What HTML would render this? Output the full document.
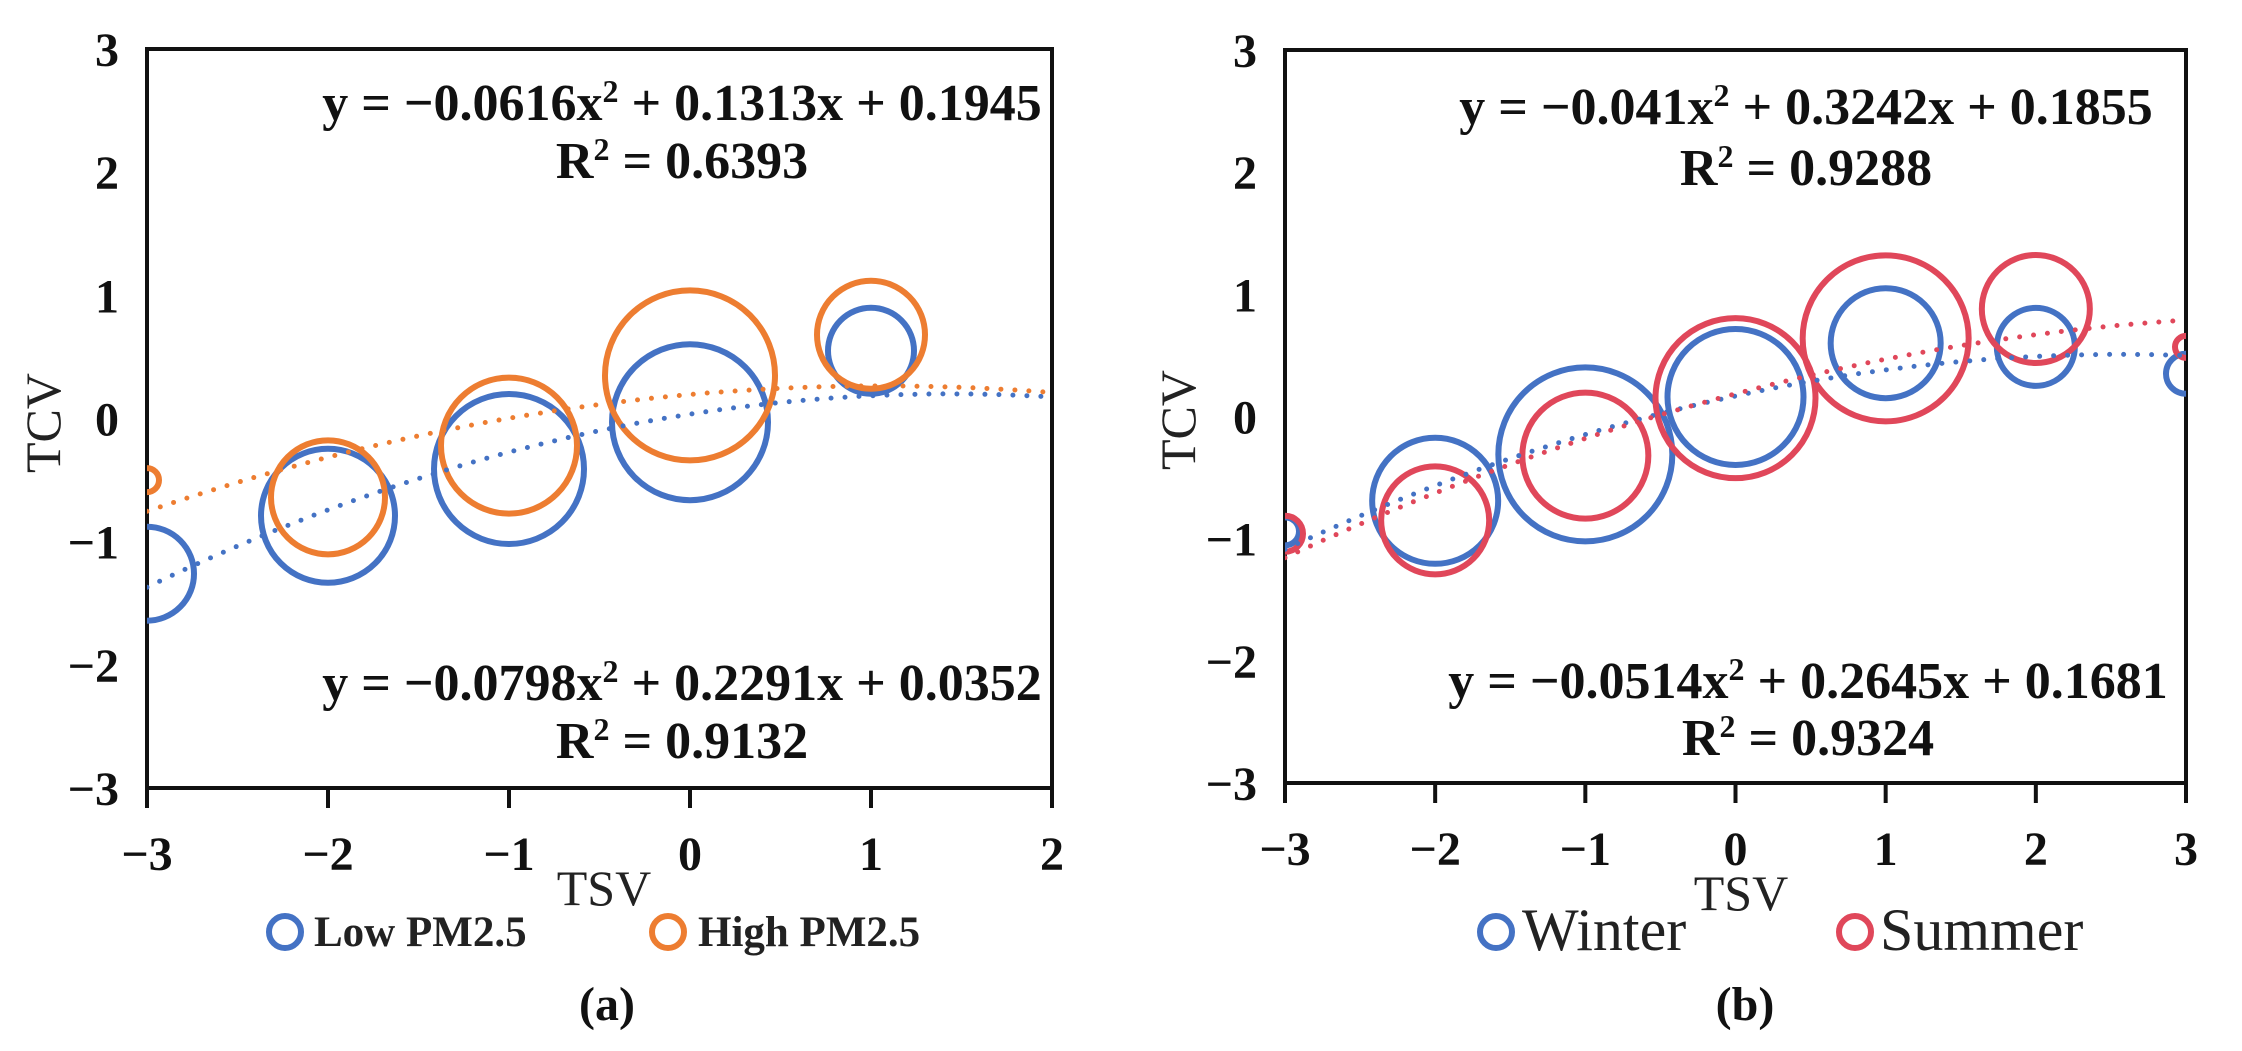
<!DOCTYPE html>
<html><head><meta charset="utf-8"><style>
html,body{margin:0;padding:0;background:#fff;}
svg{display:block;}
text{font-family:"Liberation Serif",serif;}
.tk{font-weight:bold;font-size:48px;fill:#111;}
.eq{font-weight:bold;font-size:52px;fill:#111;}
</style></head><body>
<svg id="fig" width="2242" height="1051" viewBox="0 0 2242 1051" xmlns="http://www.w3.org/2000/svg"></svg>
<script>
// Panel (a) data
const aX = [-3, -2, -1, 0, 1];
const aLowY = [-1.26, -0.79, -0.41, -0.03, 0.55];
const aLowSize = [47, 67, 75, 78, 43];
const aHighY = [-0.5, -0.64, -0.22, 0.35, 0.68];
const aHighSize = [12, 57, 68, 85, 54];
const aLowFit = [-0.0798, 0.2291, 0.0352];
const aHighFit = [-0.0616, 0.1313, 0.1945];
const aXTicks = [-3, -2, -1, 0, 1, 2];
// Panel (b) data
const bX = [-3, -2, -1, 0, 1, 2, 3];
const bWinterY = [-0.94, -0.69, -0.31, 0.16, 0.6, 0.57, 0.35];
const bWinterSize = [14, 63, 87, 68, 55, 39, 20];
const bSummerY = [-0.96, -0.85, -0.32, 0.15, 0.64, 0.88, 0.57];
const bSummerSize = [18, 54, 63, 80, 83, 54, 11];
const bWinterFit = [-0.0514, 0.2645, 0.1681];
const bSummerFit = [-0.041, 0.3242, 0.1855];
const bXTicks = [-3, -2, -1, 0, 1, 2, 3];
const yTicks = [-3, -2, -1, 0, 1, 2, 3];

const NS = "http://www.w3.org/2000/svg";
const svg = document.getElementById('fig');
function mk(tag, attrs, parent, txt) {
  const e = document.createElementNS(NS, tag);
  for (const k in attrs) e.setAttribute(k, attrs[k]);
  if (txt !== undefined) e.textContent = txt;
  (parent || svg).appendChild(e);
  return e;
}
const BLUE = "#4472C4", ORANGE = "#ED7D31", RED = "#E0475A";
function fmt(v){return v < 0 ? "\u2212" + Math.abs(v) : String(v);}

function panel(cfg) {
  const g = mk('g', {});
  
  
  const xs = v => cfg.L + (v - cfg.xmin) / (cfg.xmax - cfg.xmin) * (cfg.R - cfg.L);
  const ys = v => cfg.B - (v + 3) / 6 * (cfg.B - cfg.T);
  const fr = mk('rect', {x: cfg.L, y: cfg.T, width: cfg.R - cfg.L, height: cfg.B - cfg.T, fill: "none", stroke: "#111", "stroke-width": 4}, g);
  
  
  cfg.xticks.forEach(t => {
    const x = xs(t);
    const tl = mk('line', {x1: x, y1: cfg.B, x2: x, y2: cfg.B + 20, stroke: "#111", "stroke-width": 4}, g);
    
    
    const tx = mk('text', {x: x, y: cfg.B + 82, "text-anchor": "middle", class: "tk"}, g, fmt(t));
    
    
  });
  yTicks.forEach(t => {
    const ty = mk('text', {x: cfg.L - 28, y: ys(t) + 17, "text-anchor": "end", class: "tk"}, g, fmt(t));
    
    
  });
  const clip = mk('clipPath', {id: cfg.name + '-clip'}, g);
  mk('rect', {x: cfg.L, y: cfg.T, width: cfg.R - cfg.L, height: cfg.B - cfg.T}, clip);
  const pg = mk('g', {"clip-path": "url(#" + cfg.name + "-clip)"}, g);
  cfg.series.forEach(s => {
    s.y.forEach((v, i) => {
      const c = mk('circle', {cx: xs(cfg.x[i]), cy: ys(v), r: s.size[i], fill: "none", stroke: s.color, "stroke-width": 6}, pg);
      
      
    });
  });
  cfg.series.forEach(s => {
    let d = "";
    for (let k = 0; k <= 120; k++) {
      const xv = cfg.xmin + (cfg.xmax - cfg.xmin) * k / 120;
      const yv = s.fit[0] * xv * xv + s.fit[1] * xv + s.fit[2];
      d += (k ? "L" : "M") + xs(xv).toFixed(1) + " " + ys(yv).toFixed(1);
    }
    const p = mk('path', {d: d, fill: "none", stroke: s.color, "stroke-width": 5, "stroke-linecap": "round", "stroke-dasharray": "0 14"}, pg);
    
    
  });
  cfg.eqs.forEach(e => {
    const t1 = mk('text', {x: e.x, y: e.y1, "text-anchor": "middle", class: "eq"}, g);
    
    
    const f = e.fit;
    mk('tspan', {}, t1, "y = " + fmt(f[0]) + "x");
    mk('tspan', {"font-size": "32", dy: "-18"}, t1, "2");
    mk('tspan', {dy: "18"}, t1, " + " + f[1] + "x + " + f[2]);
    const t2 = mk('text', {x: e.x, y: e.y2, "text-anchor": "middle", class: "eq"}, g);
    
    
    mk('tspan', {}, t2, "R");
    mk('tspan', {"font-size": "32", dy: "-18"}, t2, "2");
    mk('tspan', {dy: "18"}, t2, " = " + e.r2);
  });
  const xt = mk('text', {x: cfg.tsvX, y: cfg.tsvY, "text-anchor": "middle", "font-size": 50, fill: "#222"}, g, "TSV");
  
  
  const yt = mk('text', {x: 0, y: 0, "text-anchor": "middle", "font-size": 50, fill: "#222", transform: "translate(" + cfg.tcvX + "," + cfg.tcvY + ") rotate(-90)"}, g, "TCV");
  
  
  cfg.legend.forEach(l => {
    const lg = mk('g', {}, g);
    
    
    mk('circle', {cx: l.cx, cy: 932, r: 16, fill: "none", stroke: l.color, "stroke-width": 6}, lg);
    mk('text', {x: l.tx, y: l.ty, "font-size": l.fs, "font-weight": l.bold ? "bold" : "normal", fill: "#222"}, lg, l.label);
  });
  const cap = mk('text', {x: cfg.capX, y: 1020, "text-anchor": "middle", "font-size": 48, "font-weight": "bold", fill: "#111"}, g, cfg.cap);
  
  
}

panel({name: "panel-a", L: 147, R: 1052, T: 49, B: 788, xmin: -3, xmax: 2, x: aX, xticks: aXTicks,
  series: [
    {key: "low-pm25", y: aLowY, size: aLowSize, fit: aLowFit, color: BLUE},
    {key: "high-pm25", y: aHighY, size: aHighSize, fit: aHighFit, color: ORANGE}],
  eqs: [
    {key: "high-pm25", fit: aHighFit, r2: "0.6393", x: 682, y1: 120, y2: 178},
    {key: "low-pm25", fit: aLowFit, r2: "0.9132", x: 682, y1: 700, y2: 758}],
  tsvX: 604, tsvY: 905, tcvX: 60, tcvY: 423,
  legend: [
    {cx: 285, color: BLUE, tx: 314, ty: 946, fs: 43, bold: true, label: "Low PM2.5"},
    {cx: 668, color: ORANGE, tx: 698, ty: 946, fs: 43, bold: true, label: "High PM2.5"}],
  capX: 607, cap: "(a)"});

panel({name: "panel-b", L: 1285, R: 2186, T: 50, B: 783, xmin: -3, xmax: 3, x: bX, xticks: bXTicks,
  series: [
    {key: "winter", y: bWinterY, size: bWinterSize, fit: bWinterFit, color: BLUE},
    {key: "summer", y: bSummerY, size: bSummerSize, fit: bSummerFit, color: RED}],
  eqs: [
    {key: "summer", fit: bSummerFit, r2: "0.9288", x: 1806, y1: 124, y2: 185},
    {key: "winter", fit: bWinterFit, r2: "0.9324", x: 1808, y1: 698, y2: 755}],
  tsvX: 1741, tsvY: 910, tcvX: 1195, tcvY: 420,
  legend: [
    {cx: 1496, color: BLUE, tx: 1522, ty: 950, fs: 60, bold: false, label: "Winter"},
    {cx: 1855, color: RED, tx: 1880, ty: 950, fs: 60, bold: false, label: "Summer"}],
  capX: 1745, cap: "(b)"});
</script>
</body></html>
